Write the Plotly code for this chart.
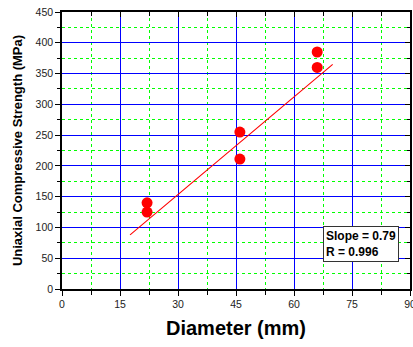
import plotly.graph_objects as go

diameter = [22, 22, 46, 46, 66, 66]
ucs = [140, 125, 255, 211, 385, 360]
fit_x = [17.6, 70.0]
fit_y = [88, 365]
x_ticks = [0, 15, 30, 45, 60, 75, 90]
y_ticks = [0, 50, 100, 150, 200, 250, 300, 350, 400, 450]
x_minor = [7.5, 22.5, 37.5, 52.5, 67.5, 82.5]
y_minor = [25, 75, 125, 175, 225, 275, 325, 375, 425]

fig = go.Figure()
fig.add_trace(go.Scatter(x=fit_x, y=fit_y, mode="lines",
                         line=dict(color="red", width=1.1), showlegend=False))
fig.add_trace(go.Scatter(x=diameter, y=ucs, mode="markers",
                         marker=dict(color="red", size=11), showlegend=False))
# invisible trace for mirrored (inside) axes
fig.add_trace(go.Scatter(x=[0], y=[0], xaxis="x2", yaxis="y2", mode="markers",
                         marker=dict(opacity=0), showlegend=False, hoverinfo="skip"))

font = "Liberation Sans, Arial, sans-serif"
green = "#00ff00"
common = dict(showline=True, linecolor="black", linewidth=1.5, zeroline=False,
              gridcolor="#0000ff", gridwidth=1, automargin=False, ticklabeloverflow="allow",
              tickfont=dict(family=font, size=10.5, color="#222"))
mirror = dict(showticklabels=False, showgrid=False, zeroline=False, showline=True,
              linecolor="black", linewidth=1.5, ticks="inside", tickcolor="black")

fig.update_layout(
    width=413, height=347,
    margin=dict(l=62, r=3, t=12, b=58),
    plot_bgcolor="white", paper_bgcolor="white",
    xaxis=dict(range=[0, 90], tickvals=x_ticks, ticks="outside", ticklen=5, tickcolor="black",
               minor=dict(tickvals=x_minor, showgrid=True,
                          gridcolor=green, griddash="dot",
                          gridwidth=1.2, ticks="outside", ticklen=4, tickcolor="black"),
               title=dict(text="<b>Diameter (mm)</b>", font=dict(family=font, size=20, color="black"),
                          standoff=12),
               **common),
    yaxis=dict(range=[0, 450], tickvals=y_ticks, ticks="outside", ticklen=5, tickcolor="black",
               minor=dict(tickvals=y_minor, showgrid=True,
                          gridcolor=green, griddash="dot",
                          gridwidth=1.2, ticks="outside", ticklen=3, tickcolor="black"),
               title=dict(text="<b>Uniaxial Compressive Strength (MPa)</b>",
                          font=dict(family=font, size=13, color="black"), standoff=10),
               **common),
    xaxis2=dict(range=[0, 90], overlaying="x", side="top", anchor="y2", tickvals=x_ticks,
                ticklen=5, minor=dict(tickvals=x_minor, ticks="inside", ticklen=4,
                                      tickcolor="black", showgrid=False), **mirror),
    yaxis2=dict(range=[0, 450], overlaying="y", side="right", anchor="x2", tickvals=y_ticks,
                ticklen=5, minor=dict(tickvals=y_minor, ticks="inside", ticklen=3,
                                      tickcolor="black", showgrid=False), **mirror),
    annotations=[dict(x=0.75, y=0.162, xref="paper", yref="paper", xanchor="left", yanchor="middle",
                      text="<b>Slope = 0.79</b><br><b>R = 0.996</b>", align="left", showarrow=False,
                      font=dict(family=font, size=12, color="black"),
                      bgcolor="white", bordercolor="#333", borderwidth=1, borderpad=2)],
)
fig.write_html("out.html")
